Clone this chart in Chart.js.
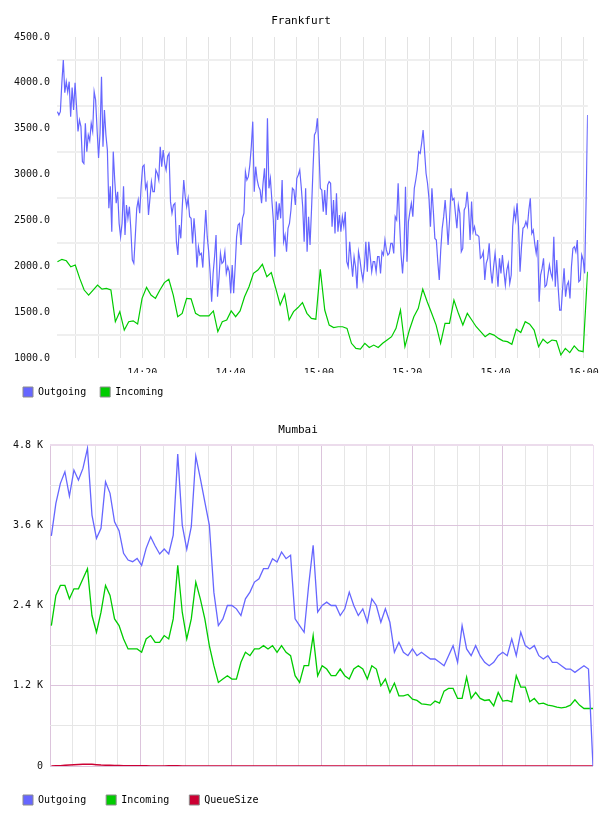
<!DOCTYPE html>
<html><head><meta charset="utf-8">
<script src="https://cdn.jsdelivr.net/npm/chart.js@4.4.1/dist/chart.umd.min.js"></script>
<style>
html,body{margin:0;padding:0;background:#fff;}
canvas{display:block;position:absolute;left:0;}
#c1{top:0}
#c2{top:408px}
</style></head><body>
<canvas id="c1" width="608" height="408"></canvas>
<canvas id="c2" width="608" height="408"></canvas>
<script>
// ---------- DATA ----------
// Frankfurt: minutes after 14:00 of first/last sample
const frankfurtTimeRange = [0.8, 120.85];
const frankfurtOutgoing = [
3686,3650,3686,4000,4250,3893,4013,3900,4013,3631,
3950,3704,4000,3740,3470,3595,3522,3141,3120,3559,
3250,3432,3370,3559,3470,3904,3813,3486,3180,3450,
4067,3304,3704,3432,3267,2632,2872,2377,3250,2941,
2687,2813,2468,2323,2468,2872,2341,2668,2523,2650,
2395,2069,2033,2323,2632,2723,2578,2872,3086,3104,
2850,2905,2559,2741,2923,2813,2813,3050,3013,2941,
3304,3086,3268,3123,3050,3200,3230,2705,2578,2668,
2687,2268,2123,2450,2305,2650,2941,2759,2650,2741,
2541,2523,2250,2523,2323,1986,2214,2123,2141,1986,
2323,2614,2323,2159,1922,1614,1922,2105,2341,1669,
1868,2141,2032,2050,2159,1922,1995,1941,1705,2014,
1705,1995,2323,2450,2468,2232,2523,2578,3032,2941,
2977,3104,3304,3577,2813,3086,2941,2868,2832,2687,
2905,3068,2705,3613,2850,2959,2723,2505,2105,2705,
2505,2687,2523,2941,2268,2341,2159,2414,2468,2614,
2850,2832,2668,2959,2995,3050,2868,2650,2268,2850,
2159,2541,2232,2614,3050,3432,3468,3613,3304,2850,2832,
2595,2832,2559,2886,2923,2905,2432,2723,2359,2795,
2377,2559,2377,2541,2432,2595,2050,1995,2268,2069,
1886,2105,1995,1759,2159,2069,1941,1850,1995,2268,
1941,2268,2105,1941,2050,2050,1941,2105,2105,1922,
2159,2123,2287,2178,2123,2141,2250,2250,2141,2541,
2505,2905,2468,2123,1922,2178,2868,2050,2486,2595,
2687,2541,2850,2941,3050,3250,3232,3341,3486,3250,
3014,2905,2741,2432,2850,2595,2304,2287,2050,1850,
2178,2414,2541,2723,2505,2232,2505,2850,2723,2741,
2577,2414,2668,2577,2159,
2195,2614,2650,2813,2614,2287,2705,2377,2432,2341,
2341,2323,2087,2105,2159,1850,2032,2087,2250,1959,
1814,1995,2141,1977,1777,2087,1923,2123,1941,1795,
1959,2032,1814,1905,2432,2614,2505,2687,2432,1941,
2214,2414,2432,2486,2432,2614,2741,2359,2395,2250,
2141,2287,1614,1905,1977,2087,1777,1795,1905,2014,
1923,1868,2323,1777,2069,1759,1523,1523,1759,1977,
1668,1795,1832,1650,1995,2195,2214,2159,2287,1832,
1850,2123,2069,1923,2723,3650
];
const frankfurtIncoming = [
2050,2076,2060,1995,2014,1868,1741,1686,1741,1795,
1750,1759,1741,1396,1505,1305,1396,1405,1370,1650,
1770,1686,1650,1741,1822,1858,1686,1450,1486,1650,1645,
1487,1459,1459,1459,1513,1287,1396,1414,1513,1450,
1514,1668,1777,1923,1959,2022,1886,1932,1759,1578,
1695,1414,1505,1550,1605,1487,1432,1423,1968,
1523,1359,1332,1341,1341,1323,1160,1105,1096,1160,
1114,1141,1114,1160,1196,1232,1323,1523,1123,1305,
1450,1541,1750,1614,1487,1359,1160,1377,1377,1632,1487,1359,
1487,1414,1341,1287,1232,1268,1250,1214,1187,1178,
1150,1314,1277,1396,1369,1305,1123,1205,1160,1196,
1187,1033,1105,1059,1132,1080,1069,1941
];

// Mumbai: one sample per minute, minutes after 14:00
const mumbaiTimeRange = [0.3, 120];
const mumbaiOutgoing = [
3440,3927,4226,4400,4036,4425,4276,4450,4749,3752,
3404,3553,4250,4077,3652,3518,3180,3080,3055,3105,
3000,3254,3428,3289,3170,3244,3170,3453,4664,3603,
3239,3578,4634,4301,3951,3603,2600,2100,2200,2400,
2400,2350,2250,2500,2600,2750,2800,2950,2950,3100,
3050,3200,3100,3150,2200,2100,2000,2700,3300,2300,
2400,2450,2400,2400,2250,2350,2600,2400,2250,2350,
2150,2500,2400,2150,2350,2150,1700,1850,1700,1650,
1750,1650,1700,1650,1600,1600,1550,1500,1650,1800,
1550,2100,1750,1650,1800,1650,1550,1500,1550,1650,
1700,1650,1900,1650,2000,1800,1750,1800,1650,1600,
1650,1550,1550,1500,1450,1450,1400,1450,1500,1450,
0
];
const mumbaiIncoming = [
2100,2550,2700,2700,2500,2650,2650,2800,2950,2250,
2000,2300,2700,2550,2200,2100,1900,1750,1750,1750,
1700,1900,1950,1850,1850,1950,1900,2200,3000,2300,
1900,2200,2750,2500,2200,1800,1500,1250,1300,1350,
1300,1300,1550,1700,1650,1750,1750,1800,1750,1800,
1700,1800,1700,1650,1350,1250,1500,1500,1950,1350,
1500,1450,1350,1350,1450,1350,1300,1450,1500,1450,
1300,1500,1450,1200,1300,1100,1240,1050,1050,1070,
1000,980,930,920,910,970,940,1120,1160,1160,
1010,1010,1330,1010,1100,1010,980,990,900,1100,
970,980,960,1350,1180,1180,960,1010,930,940,
910,900,880,870,880,910,990,910,860,860,
860
];
const mumbaiQueueSize = [
0,2,5,10,15,20,22,25,28,25,
20,15,12,10,8,6,5,4,3,3,
2,2,1,1,1,1,2,3,2,1,
1,0,0,0,0,0,0,0,0,0,
0,0,0,0,0,0,0,0,0,0,
0,0,0,0,0,0,0,0,0,0,
0,0,0,0,0,0,0,0,0,0,
0,0,0,0,0,0,0,0,0,0,
0,0,0,0,0,0,0,0,0,0,
0,0,0,0,0,0,0,0,0,0,
0,0,0,0,0,0,0,0,0,0,
0,0,0,0,0,0,0,0,0,0,
0
];
const timeTicks = [0,5,10,15,20,25,30,35,40,45,50,55,60,65,70,75,80,85,90,95,100,105,110,115,120];
const frankfurtValueTicks = [1000,1250,1500,1750,2000,2250,2500,2750,3000,3250,3500,3750,4000,4250,4500];
const mumbaiValueTicks = [0,600,1200,1800,2400,3000,3600,4200,4800];

// ---------- HELPERS ----------
const MONO = "'DejaVu Sans Mono', monospace";
function toPoints(values, range) {
  const step = (range[1] - range[0]) / (values.length - 1);
  return values.map((v, i) => ({ x: range[0] + i * step, y: v }));
}
function clock(m) {
  const h = 14 + Math.floor(m / 60);
  const mm = Math.round(m % 60);
  return h + ':' + String(mm).padStart(2, '0');
}
function legendCfg(pad) {
  return {
    position: 'bottom', align: 'start',
    labels: {
      boxWidth: 10, boxHeight: 10, padding: pad,
      font: { family: MONO, size: 10 }, color: '#000',
      generateLabels: chart => chart.data.datasets.map((d, i) => ({
        text: d.label, fillStyle: d.borderColor, strokeStyle: '#8c8c8c',
        lineWidth: 1, hidden: false, datasetIndex: i, fontColor: '#000'
      }))
    }
  };
}
function line(label, values, range, color, width) {
  return { label, data: toPoints(values, range), borderColor: color, backgroundColor: color,
           borderWidth: width, pointRadius: 0, tension: 0, fill: false };
}

// ---------- FRANKFURT ----------
new Chart(document.getElementById('c1'), {
  type: 'line',
  data: { datasets: [
    line('Outgoing', frankfurtOutgoing, frankfurtTimeRange, '#6666ff', 1.2),
    line('Incoming', frankfurtIncoming, frankfurtTimeRange, '#00cc00', 1.2)
  ]},
  options: {
    responsive: false, animation: false, devicePixelRatio: 1,
    layout: { padding: { left: 9, right: 15, top: 0, bottom: 1 } },
    plugins: {
      title: { display: true, text: 'Frankfurt', color: '#000',
               font: { family: MONO, size: 11, weight: 'normal' }, padding: { top: 14.5, bottom: 9.3 } },
      legend: legendCfg(14),
      tooltip: { enabled: false }
    },
    scales: {
      x: {
        type: 'linear', min: 0.7, max: 120.9,
        afterBuildTicks: s => { s.ticks = timeTicks.filter(v => v > 0).map(v => ({ value: v })); },
        afterFit: s => { s.height = 15; },
        grid: { color: '#e3e3e3', lineWidth: 1, drawTicks: false },
        border: { display: false },
        ticks: { autoSkip: false, maxRotation: 0, padding: 9, color: '#111',
                 font: { family: MONO, size: 10 },
                 callback: v => (v % 20 === 0 ? clock(v) : '') }
      },
      y: {
        min: 1000, max: 4500,
        afterBuildTicks: s => { s.ticks = frankfurtValueTicks.map(v => ({ value: v })); },
        afterFit: s => { s.width = 48; },
        grid: { drawTicks: false, lineWidth: 2,
                color: c => (c.tick && c.tick.value % 500 === 0 ? 'rgba(0,0,0,0)' : '#efefef') },
        border: { display: false },
        ticks: { padding: 7, color: '#111', font: { family: MONO, size: 10 },
                 callback: v => (v % 500 === 0 ? v.toFixed(1) : '') }
      }
    }
  }
});

// ---------- MUMBAI ----------
const PINK = '#dcc4dc', GREY = '#e6e6e6';
new Chart(document.getElementById('c2'), {
  type: 'line',
  data: { datasets: [
    line('Outgoing', mumbaiOutgoing, mumbaiTimeRange, '#6666ff', 1.3),
    line('Incoming', mumbaiIncoming, mumbaiTimeRange, '#00cc00', 1.3),
    line('QueueSize', mumbaiQueueSize, mumbaiTimeRange, '#cc0033', 1.5)
  ]},
  options: {
    responsive: false, animation: false, devicePixelRatio: 1,
    layout: { padding: { left: 3, right: 15, top: 0, bottom: 1 } },
    plugins: {
      title: { display: true, text: 'Mumbai', color: '#000',
               font: { family: MONO, size: 11, weight: 'normal' }, padding: { top: 15.4, bottom: 8.4 } },
      legend: legendCfg(20),
      tooltip: { enabled: false }
    },
    scales: {
      x: {
        type: 'linear', min: 0, max: 120,
        afterBuildTicks: s => { s.ticks = timeTicks.map(v => ({ value: v })); },
        afterFit: s => { s.height = 9; },
        grid: { drawTicks: false, lineWidth: 1,
                color: c => { const v = c.tick ? c.tick.value : 0;
                  return v === 120 ? '#eedff0' : (v % 20 === 0 ? PINK : GREY); } },
        border: { display: false },
        ticks: { autoSkip: false, maxRotation: 0, padding: 9, color: '#111',
                 font: { family: MONO, size: 10 },
                 callback: v => (v % 20 === 0 && v > 0 && v < 120 ? clock(v) : '') }
      },
      y: {
        min: 0, max: 4800,
        afterBuildTicks: s => { s.ticks = mumbaiValueTicks.map(v => ({ value: v })); },
        afterFit: s => { s.width = 47; },
        grid: { drawTicks: false,
                lineWidth: c => (c.tick && c.tick.value === 4800 ? 2 : 1),
                color: c => { const v = c.tick ? c.tick.value : 0;
                  return v === 4800 ? '#ecdcec' : (v % 1200 === 0 ? PINK : GREY); } },
        border: { display: false },
        ticks: { padding: 7, color: '#111', font: { family: MONO, size: 10 },
                 callback: v => (v === 0 ? '0' : (v % 1200 === 0 ? (v / 1000).toFixed(1) + ' K' : '')) }
      }
    }
  }
});
</script>
</body></html>
